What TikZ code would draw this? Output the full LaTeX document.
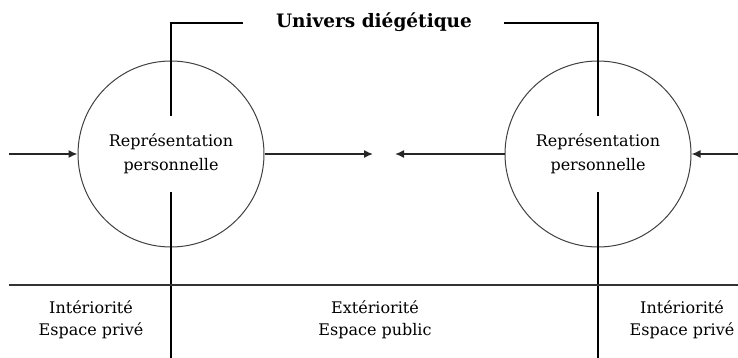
\documentclass[tikz,border=0pt]{standalone}
\usepackage{fontspec}
\setmainfont{DejaVu Serif}
\usepackage{tikz}
\usetikzlibrary{arrows.meta}

\tikzset{
    rep/.style={circle, draw=black!75, line width=1pt, minimum size=186pt, inner sep=0pt,
        align=center, font=\fontsize{16}{24}\selectfont},
    zone/.style={align=center, font=\fontsize{16}{22}\selectfont},
    bar/.style={black, line width=2pt},
    flow/.style={-{Latex[length=9pt,width=8pt]}, black!85, line width=1.5pt}
}

\begin{document}
\begin{tikzpicture}[x=1pt, y=-1pt]
\useasboundingbox (0,0) rectangle (738,358);
% the two personal representations
\node[rep] (repL) at (171,154) {Représentation\\personnelle};
\node[rep] (repR) at (598,154) {Représentation\\personnelle};
\node[font=\bfseries\fontsize{18.5}{20}\selectfont] (univ) at (374,22) {Univers diégétique};

\coordinate (topL) at (171,23);
\coordinate (topR) at (598,23);
\coordinate (endL) at (243,23);
\coordinate (endR) at (504,23);
\coordinate (upL) at (171,116);
\coordinate (upR) at (598,116);
\coordinate (lowL) at (171,192);
\coordinate (lowR) at (598,192);
\coordinate (botL) at (171,358);
\coordinate (botR) at (598,358);
\coordinate (inL) at (9,154);
\coordinate (inR) at (738,154);
\coordinate (tipL) at (373,154);
\coordinate (tipR) at (395,154);
\coordinate (sepL) at (9,285);
\coordinate (sepR) at (738,285);

\draw[bar] (endL) -- (topL) -- (upL);
\draw[bar] (endR) -- (topR) -- (upR);
\draw[bar] (lowL) -- (botL);
\draw[bar] (lowR) -- (botR);
\draw[black!80, line width=2pt] (sepL) -- (sepR);

\draw[flow] (inL) -- (repL.west);
\draw[flow] (inR) -- (repR.east);
\draw[flow] (repL.east) -- (tipL);
\draw[flow] (repR.west) -- (tipR);

% zones under the line
\node[zone] (intL) at (91,320) {Intériorité\\Espace privé};
\node[zone] (ext)  at (375,320) {Extériorité\\Espace public};
\node[zone] (intR) at (682,320) {Intériorité\\Espace privé};
\end{tikzpicture}
\end{document}
